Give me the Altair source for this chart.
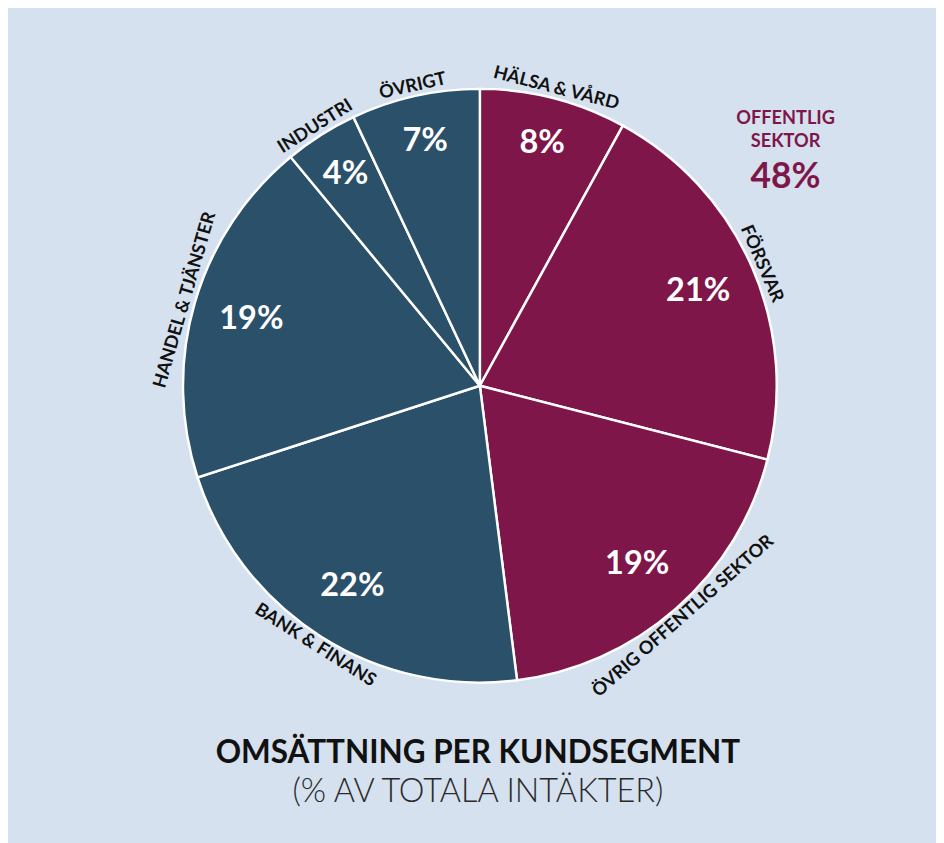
import altair as alt
import pandas as pd

# ---- data ----
segments = ["HÄLSA & VÅRD", "FÖRSVAR", "ÖVRIG OFFENTLIG SEKTOR", "BANK & FINANS",
            "HANDEL & TJÄNSTER", "INDUSTRI", "ÖVRIGT"]
values = [8, 21, 19, 22, 19, 4, 7]
groups = ["Offentlig", "Offentlig", "Offentlig", "Privat", "Privat", "Privat", "Privat"]

title_text = "OMSÄTTNING PER KUNDSEGMENT"
subtitle_text = "(% AV TOTALA INTÄKTER)"
annot_line1 = "OFFENTLIG"
annot_line2 = "SEKTOR"
annot_value = "48%"

# ---- style ----
MAROON = "#7f1649"
BLUE = "#2b5069"
BG = "#d5e1ee"
DARK = "#111111"
FONT = "Lato"
CX, CY = 480, 377
R = 302

df = pd.DataFrame({"idx": list(range(len(values))), "segment": segments,
                   "value": values, "group": groups})

theta = alt.Theta("value:Q", stack=True)
order = alt.Order("idx:Q")

base = (
    alt.Chart(df)
    .transform_window(cum="sum(value)", sort=[{"field": "idx"}])
    .transform_joinaggregate(total="sum(value)")
    .transform_calculate(mid="(datum.cum - datum.value/2) / datum.total * 360")
    .transform_calculate(
        pct="datum.value + '%'",
        lower="datum.mid > 90 && datum.mid < 270",
    )
    .transform_calculate(
        rot="datum.lower ? (datum.mid + 180) % 360 : datum.mid",
        lab_up="datum.lower ? '' : datum.segment",
        lab_dn="datum.lower ? datum.segment : ''",
        pct_big="datum.value >= 10 ? datum.pct : ''",
        pct_small="datum.value < 10 ? datum.pct : ''",
    )
)

arcs = base.mark_arc(radius=R, stroke="white", strokeWidth=2.5, x=CX, y=CY).encode(
    theta=theta, order=order,
    color=alt.Color("group:N", scale=alt.Scale(domain=["Offentlig", "Privat"], range=[MAROON, BLUE]),
                    legend=None),
)

pct_big = base.mark_text(radius=242, x=CX, y=CY, font=FONT, fontSize=33, fontWeight="bold",
                         color="white", baseline="middle", align="center").encode(
    theta=theta, order=order, text="pct_big:N")
pct_small = base.mark_text(radius=255, x=CX, y=CY, font=FONT, fontSize=33, fontWeight="bold",
                           color="white", baseline="middle", align="center").encode(
    theta=theta, order=order, text="pct_small:N")

lab_up = base.mark_text(radius=307, x=CX, y=CY, font=FONT, fontSize=18.5, fontWeight="bold",
                        color=DARK, baseline="alphabetic", align="center").encode(
    theta=theta, order=order, text="lab_up:N", angle=alt.Angle("rot:Q", scale=None))
lab_dn = base.mark_text(radius=303, x=CX, y=CY, font=FONT, fontSize=18.5, fontWeight="bold",
                        color=DARK, baseline="top", align="center").encode(
    theta=theta, order=order, text="lab_dn:N", angle=alt.Angle("rot:Q", scale=None))


def note(txt, x, y, size, weight, color, baseline="alphabetic"):
    return alt.Chart(pd.DataFrame({"t": [txt]})).mark_text(
        x=x, y=y, font=FONT, fontSize=size, fontWeight=weight, color=color,
        align="center", baseline=baseline).encode(text="t:N")


title = note(title_text, 478, 761, 32, "bold", DARK)
subtitle = note(subtitle_text, 478, 800, 33, 300, "#2a2a2a")
a1 = note(annot_line1, 791, 105, 18.5, "bold", MAROON, "middle")
a2 = note(annot_line2, 791, 128, 18.5, "bold", MAROON, "middle")
a3 = note(annot_value, 791, 165, 36, "bold", MAROON, "middle")

chart = (
    alt.layer(arcs, pct_big, pct_small, lab_up, lab_dn, title, subtitle, a1, a2, a3)
    .properties(width=944, height=843, padding=0, autosize="none")
    .configure(background=BG)
    .configure_view(stroke=None)
)

chart.save("out.html", embed_options={"renderer": "svg", "actions": False})
